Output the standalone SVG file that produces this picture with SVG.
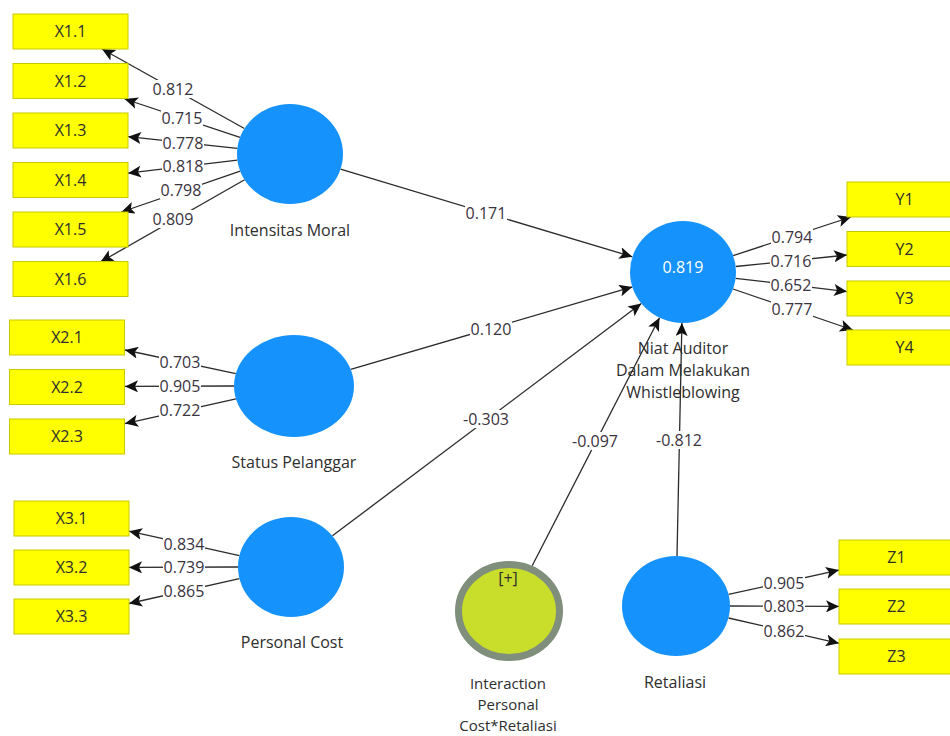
<svg xmlns="http://www.w3.org/2000/svg" width="950" height="736" viewBox="0 0 950 736">
<defs>
<style>
.bg{fill:#ffffff}
.box{fill:#ffff00;stroke:#c9c900;stroke-width:1}
.lv{fill:#1592fb}
.int{fill:#c9dd2b;stroke:#808e7c;stroke-width:7}
.ln{stroke:#2b2b2b;stroke-width:1.3;fill:none;marker-end:url(#ah)}
.lb{fill:#ffffff}
text{font-family:"Open Sans","Liberation Sans",sans-serif;font-size:16px;fill:#2e2e2e;text-anchor:middle}
.num{font-size:16px;fill:#3a3340}
.wt{fill:#ffffff}
.sm{font-size:15px}
</style>
<marker id="ah" markerUnits="userSpaceOnUse" markerWidth="14" markerHeight="12" refX="13" refY="6" orient="auto">
<path d="M0,0 L13,6 L0,12 L3,6 z" fill="#111111"/>
</marker>
</defs>
<rect class="bg" x="0" y="0" width="950" height="736"/>
<g id="connectors">
<line class="ln" x1="244.4" y1="128.5" x2="102" y2="49"/>
<line class="ln" x1="240" y1="137.4" x2="124.7" y2="99"/>
<line class="ln" x1="237.3" y1="148.4" x2="128" y2="136.7"/>
<line class="ln" x1="237.4" y1="160.2" x2="128" y2="173.2"/>
<line class="ln" x1="240.2" y1="171.1" x2="121.4" y2="212"/>
<line class="ln" x1="244.6" y1="179.8" x2="100.4" y2="262"/>
<line class="ln" x1="235.8" y1="373.6" x2="125" y2="350"/>
<line class="ln" x1="234" y1="386" x2="125" y2="386.4"/>
<line class="ln" x1="236" y1="398.9" x2="125" y2="423.6"/>
<line class="ln" x1="239.4" y1="555.6" x2="129" y2="531.2"/>
<line class="ln" x1="238" y1="567" x2="129" y2="567.4"/>
<line class="ln" x1="239.4" y1="578.6" x2="129" y2="603.5"/>
<line class="ln" x1="733.2" y1="255.6" x2="851" y2="217"/>
<line class="ln" x1="735.7" y1="266.5" x2="847" y2="255"/>
<line class="ln" x1="735.6" y1="278.3" x2="847" y2="291.6"/>
<line class="ln" x1="733" y1="289" x2="853" y2="330"/>
<line class="ln" x1="728.5" y1="594.4" x2="839" y2="570.1"/>
<line class="ln" x1="730" y1="606" x2="839" y2="606.4"/>
<line class="ln" x1="728.6" y1="618" x2="839" y2="643.3"/>
<line class="ln" x1="340.5" y1="169.2" x2="632.4" y2="256.8"/>
<line class="ln" x1="350.7" y1="369.4" x2="632.3" y2="286.9"/>
<line class="ln" x1="332.4" y1="535.8" x2="641.3" y2="303.6"/>
<line class="ln" x1="532.2" y1="565.8" x2="659.5" y2="317.7"/>
<line class="ln" x1="677" y1="556" x2="681.9" y2="323"/>
<g id="labels">
<rect class="lb" x="152" y="80" width="42" height="18"/><text class="num" x="173" y="95">0.812</text>
<rect class="lb" x="161" y="109" width="42" height="18"/><text class="num" x="182" y="124">0.715</text>
<rect class="lb" x="162" y="134" width="42" height="18"/><text class="num" x="183" y="149">0.778</text>
<rect class="lb" x="162" y="157" width="42" height="18"/><text class="num" x="183" y="172">0.818</text>
<rect class="lb" x="160" y="181" width="42" height="18"/><text class="num" x="181" y="196">0.798</text>
<rect class="lb" x="152" y="210" width="42" height="18"/><text class="num" x="173" y="225">0.809</text>
<rect class="lb" x="159" y="353" width="42" height="18"/><text class="num" x="180" y="368">0.703</text>
<rect class="lb" x="159" y="377" width="42" height="18"/><text class="num" x="180" y="392">0.905</text>
<rect class="lb" x="159" y="401" width="42" height="18"/><text class="num" x="180" y="416">0.722</text>
<rect class="lb" x="163" y="535" width="42" height="18"/><text class="num" x="184" y="550">0.834</text>
<rect class="lb" x="163" y="558" width="42" height="18"/><text class="num" x="184" y="573">0.739</text>
<rect class="lb" x="163" y="582" width="42" height="18"/><text class="num" x="184" y="597">0.865</text>
<rect class="lb" x="771" y="228" width="42" height="18"/><text class="num" x="792" y="243">0.794</text>
<rect class="lb" x="770" y="252" width="42" height="18"/><text class="num" x="791" y="267">0.716</text>
<rect class="lb" x="770" y="276" width="42" height="18"/><text class="num" x="791" y="291">0.652</text>
<rect class="lb" x="771" y="300" width="42" height="18"/><text class="num" x="792" y="315">0.777</text>
<rect class="lb" x="763" y="574" width="42" height="18"/><text class="num" x="784" y="589">0.905</text>
<rect class="lb" x="763" y="597" width="42" height="18"/><text class="num" x="784" y="612">0.803</text>
<rect class="lb" x="763" y="622" width="42" height="18"/><text class="num" x="784" y="637">0.862</text>
<rect class="lb" x="465" y="204" width="42" height="18"/><text class="num" x="486" y="219">0.171</text>
<rect class="lb" x="470" y="320" width="42" height="18"/><text class="num" x="491" y="335">0.120</text>
<rect class="lb" x="461" y="410" width="50" height="18"/><text class="num" x="486" y="425">-0.303</text>
<rect class="lb" x="570" y="432" width="50" height="18"/><text class="num" x="595" y="447">-0.097</text>
<rect class="lb" x="654" y="431" width="50" height="18"/><text class="num" x="679" y="446">-0.812</text>
</g>
</g>
<g id="X1.1"><rect class="box" x="13" y="14" width="115" height="35"/><text x="70.5" y="37">X1.1</text></g>
<g id="X1.2"><rect class="box" x="13" y="63.5" width="115" height="35"/><text x="70.5" y="86.5">X1.2</text></g>
<g id="X1.3"><rect class="box" x="13" y="113" width="115" height="35"/><text x="70.5" y="136">X1.3</text></g>
<g id="X1.4"><rect class="box" x="13" y="162.5" width="115" height="35"/><text x="70.5" y="185.5">X1.4</text></g>
<g id="X1.5"><rect class="box" x="13" y="212" width="115" height="35"/><text x="70.5" y="235">X1.5</text></g>
<g id="X1.6"><rect class="box" x="13" y="261.5" width="115" height="35"/><text x="70.5" y="284.5">X1.6</text></g>
<g id="X2.1"><rect class="box" x="9.5" y="320" width="115" height="35"/><text x="67" y="343">X2.1</text></g>
<g id="X2.2"><rect class="box" x="9.5" y="369.5" width="115" height="35"/><text x="67" y="392.5">X2.2</text></g>
<g id="X2.3"><rect class="box" x="9.5" y="419" width="115" height="35"/><text x="67" y="442">X2.3</text></g>
<g id="X3.1"><rect class="box" x="14" y="501" width="115" height="35"/><text x="71.5" y="524">X3.1</text></g>
<g id="X3.2"><rect class="box" x="14" y="550" width="115" height="35"/><text x="71.5" y="573">X3.2</text></g>
<g id="X3.3"><rect class="box" x="14" y="599" width="115" height="35"/><text x="71.5" y="622">X3.3</text></g>
<g id="Y1"><rect class="box" x="847" y="182" width="115" height="35"/><text x="904.5" y="205">Y1</text></g>
<g id="Y2"><rect class="box" x="847" y="231.5" width="115" height="35"/><text x="904.5" y="254.5">Y2</text></g>
<g id="Y3"><rect class="box" x="847" y="281" width="115" height="35"/><text x="904.5" y="304">Y3</text></g>
<g id="Y4"><rect class="box" x="847" y="330" width="115" height="35"/><text x="904.5" y="353">Y4</text></g>
<g id="Z1"><rect class="box" x="839" y="540" width="115" height="35"/><text x="896.5" y="563">Z1</text></g>
<g id="Z2"><rect class="box" x="839" y="589" width="115" height="35"/><text x="896.5" y="612">Z2</text></g>
<g id="Z3"><rect class="box" x="839" y="639" width="115" height="35"/><text x="896.5" y="662">Z3</text></g>
<g id="IntensitasMoral"><ellipse class="lv" cx="290" cy="154" rx="53" ry="50"/><text x="290" y="236">Intensitas Moral</text></g>
<g id="StatusPelanggar"><ellipse class="lv" cx="294" cy="386" rx="60" ry="51"/><text x="294" y="468">Status Pelanggar</text></g>
<g id="PersonalCost"><ellipse class="lv" cx="291" cy="567" rx="53" ry="50"/><text x="292" y="648">Personal Cost</text></g>
<g id="Niat"><ellipse class="lv" cx="683" cy="272" rx="53" ry="51"/><text class="wt" x="683" y="273">0.819</text><text x="683" y="354">Niat Auditor</text><text x="683" y="376">Dalam Melakukan</text><text x="683" y="398">Whistleblowing</text></g>
<g id="Interaction"><ellipse class="int" cx="509" cy="611" rx="50.5" ry="46.5"/><text x="508" y="584">[+]</text><text class="sm" x="508" y="689">Interaction</text><text class="sm" x="508" y="710">Personal</text><text class="sm" x="508" y="731">Cost*Retaliasi</text></g>
<g id="Retaliasi"><ellipse class="lv" cx="676" cy="606" rx="54" ry="50"/><text x="675" y="688">Retaliasi</text></g>
</svg>
